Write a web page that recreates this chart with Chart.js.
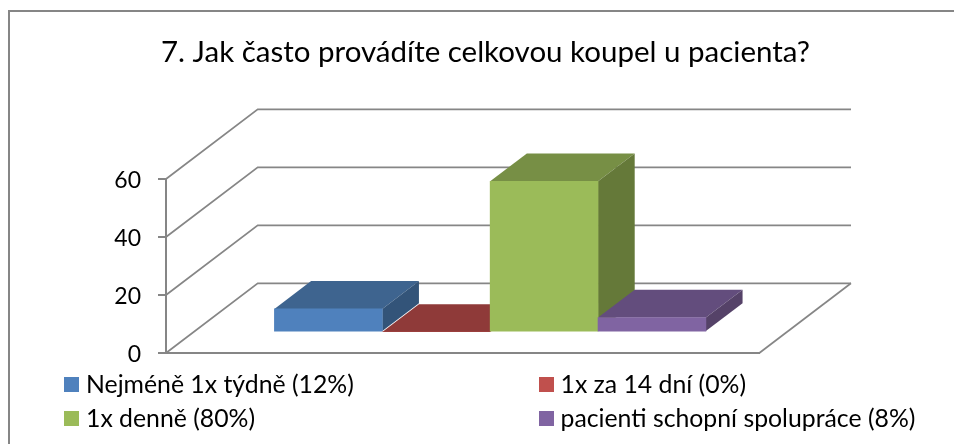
<!DOCTYPE html>
<html>
<head>
<meta charset="utf-8">
<script src="https://cdn.jsdelivr.net/npm/chart.js@4/dist/chart.umd.js"></script>
<style>
    html, body { margin: 0; padding: 0; background: #fff; overflow: hidden; }
    #wrap { position: relative; width: 954px; height: 444px; overflow: hidden; }
    #frame { position: absolute; left: 8px; top: 10px; width: 1000px; height: 500px; border: 2px solid #868686; }
    #myChart { position: absolute; left: 0; top: 0; }
    .legendItem { position: absolute; font: 24.8px Lato, sans-serif; color: #000; line-height: 26px; white-space: nowrap; }
    .legendItem span { position: absolute; left: -22px; top: 6px; width: 15px; height: 15px; }
</style>
</head>
<body>
<div id="wrap">
    <div id="frame"></div>
    <canvas id="myChart" width="954" height="444"></canvas>
</div>
<script>
const titleText = '7. Jak často provádíte celkovou koupel u pacienta?';
const categories = ['Nejméně 1x týdně (12%)', '1x za 14 dní (0%)', '1x denně (80%)', 'pacienti schopní spolupráce (8%)'];
const values = [8, 0, 52, 5];
const yTicks = [0, 20, 40, 60];

const frontColors = ['#4F81BD', '#C0504D', '#9BBB59', '#8064A2'];
const topColors = ['#3E648F', '#8F3A39', '#778F45', '#634D7D'];
const sideColors = ['#335479', '#7A3130', '#657939', '#554268'];

const axisColor = '#868686';
// 3d offsets in pixels
const floorDx = 91.7;
const floorDy = -69.7;
const barShiftX = floorDx * 0.3;
const barShiftY = floorDy * 0.3;
const barDepthX = floorDx * 0.4;
const barDepthY = floorDy * 0.4;

function face(ctx, color, pts) {
    ctx.fillStyle = color;
    ctx.beginPath();
    ctx.moveTo(pts[0][0], pts[0][1]);
    for (let i = 1; i < pts.length; i++) {
        ctx.lineTo(pts[i][0], pts[i][1]);
    }
    ctx.closePath();
    ctx.fill();
}

const depth3d = {
    id: 'depth3d',
    afterLayout(chart) {
        // title is centred on the frame, not on the plot
        chart.titleBlock.left = 10;
        chart.titleBlock.right = 961;
    },
    beforeDatasetsDraw(chart) {
        const ctx = chart.ctx;
        const area = chart.chartArea;
        const y = chart.scales.y;

        // floor edges and the gridlines on the left and back walls
        ctx.save();
        ctx.strokeStyle = axisColor;
        ctx.lineWidth = 1.7;
        yTicks.forEach(t => {
            const py = y.getPixelForValue(t);
            ctx.beginPath();
            ctx.moveTo(area.left, py);
            ctx.lineTo(area.left + floorDx, py + floorDy);
            ctx.lineTo(area.right + floorDx, py + floorDy);
            ctx.stroke();
        });
        ctx.beginPath();
        ctx.moveTo(area.right, y.getPixelForValue(0));
        ctx.lineTo(area.right + floorDx, y.getPixelForValue(0) + floorDy);
        ctx.stroke();
        ctx.restore();

        // bars sit further back than the front of the floor
        ctx.save();
        ctx.translate(barShiftX, barShiftY);
        chart.getDatasetMeta(0).data.forEach((bar, i) => {
            const half = bar.width / 2;
            const l = bar.x - half;
            const r = bar.x + half;
            const dx = barDepthX;
            const dy = barDepthY;
            face(ctx, topColors[i], [[l, bar.y], [r, bar.y], [r + dx, bar.y + dy], [l + dx, bar.y + dy]]);
            face(ctx, sideColors[i], [[r, bar.y], [r + dx, bar.y + dy], [r + dx, bar.base + dy], [r, bar.base]]);
        });
    },
    afterDatasetsDraw(chart) {
        chart.ctx.restore();
    }
};

document.addEventListener('DOMContentLoaded', function() {
    const ctx = document.getElementById('myChart').getContext('2d');

    new Chart(ctx, {
        type: 'bar',
        data: {
            datasets: [{
                data: categories.map((c, i) => ({ x: i, y: values[i] })),
                backgroundColor: frontColors,
                barPercentage: 1,
                categoryPercentage: 1,
                borderWidth: 0
            }]
        },
        options: {
            responsive: false,
            animation: false,
            layout: { padding: { left: 100, right: 194.7, top: 0, bottom: 91 } },
            plugins: {
                legend: { display: false },
                tooltip: { enabled: false },
                title: {
                    display: true,
                    text: titleText,
                    color: '#000',
                    font: { family: 'Lato', size: 29.5, weight: 'normal' },
                    padding: { top: 34.8, bottom: 108.8 }
                }
            },
            scales: {
                x: {
                    type: 'linear',
                    offset: false,
                    min: -1.25,
                    max: 4.25,
                    ticks: { display: false },
                    grid: { display: false, drawTicks: false },
                    border: { display: true, color: axisColor, width: 2 },
                    afterFit(scale) { scale.height = 0; }
                },
                y: {
                    min: 0,
                    max: 60,
                    afterBuildTicks(scale) { scale.ticks = yTicks.map(v => ({ value: v })); },
                    ticks: { color: '#000', padding: 17, labelOffset: 2, font: { family: 'Lato', size: 23 } },
                    grid: { drawOnChartArea: false, tickLength: 8, tickColor: axisColor, lineWidth: 2 },
                    border: { display: true, color: axisColor, width: 2 },
                    afterFit(scale) { scale.width = 66; }
                }
            }
        },
        plugins: [depth3d]
    });

    // legend is laid out in two fixed columns, which the built-in one cannot do
    const legendX = [86, 560.5];
    const legendY = [371, 405];
    categories.forEach((c, i) => {
        const item = document.createElement('div');
        item.className = 'legendItem';
        item.style.left = legendX[i % 2] + 'px';
        item.style.top = legendY[Math.floor(i / 2)] + 'px';
        item.textContent = c;
        const box = document.createElement('span');
        box.style.background = frontColors[i];
        item.appendChild(box);
        document.getElementById('wrap').appendChild(item);
    });
});
</script>
</body>
</html>
